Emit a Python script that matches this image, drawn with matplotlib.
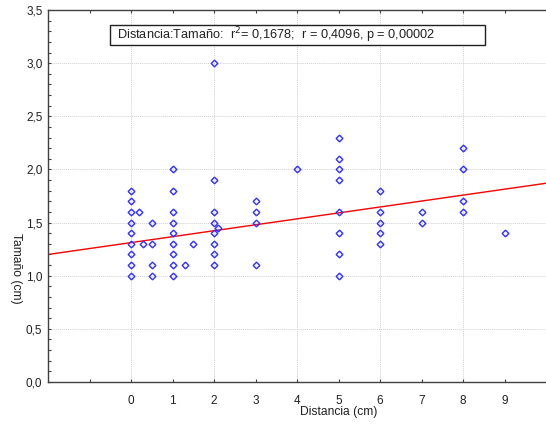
import numpy as np
import matplotlib
matplotlib.use("Agg")
import matplotlib.pyplot as plt
from matplotlib.ticker import FuncFormatter, MultipleLocator, FixedLocator
from matplotlib.patches import Rectangle

plt.rcParams['font.family'] = ['Liberation Sans', 'DejaVu Sans']

# Data
distancia = [0, 0, 0, 0, 0, 0, 0, 0, 0,
             0.2, 0.3,
             0.5, 0.5, 0.5, 0.5,
             1, 1, 1, 1, 1, 1, 1, 1, 1,
             1.3, 1.5,
             2, 2, 2, 2, 2, 2, 2, 2, 2.1,
             3, 3, 3, 3,
             4,
             5, 5, 5, 5, 5, 5, 5, 5,
             6, 6, 6, 6, 6,
             7, 7,
             8, 8, 8, 8,
             9]
tamano = [1.0, 1.1, 1.2, 1.3, 1.4, 1.5, 1.6, 1.7, 1.8,
          1.6, 1.3,
          1.5, 1.3, 1.1, 1.0,
          1.0, 1.1, 1.2, 1.3, 1.4, 1.5, 1.6, 1.8, 2.0,
          1.1, 1.3,
          1.1, 1.2, 1.3, 1.4, 1.5, 1.6, 1.9, 3.0, 1.45,
          1.1, 1.5, 1.6, 1.7,
          2.0,
          1.0, 1.2, 1.4, 1.6, 1.9, 2.0, 2.1, 2.3,
          1.3, 1.4, 1.5, 1.6, 1.8,
          1.5, 1.6,
          1.6, 1.7, 2.0, 2.2,
          1.4]

# Regression line as reported by the picture (value at x=-2 and x=10)
fit_x = [-2, 10]
fit_y = [1.20, 1.87]

x_ticklabels = ['0', '1', '2', '3', '4', '5', '6', '7', '8', '9']
stats_text = "Distancia:Tamaño:  r$^2$= 0,1678;  r = 0,4096, p = 0,00002"

W, H = 546, 430
fig = plt.figure(figsize=(W / 100, H / 100), dpi=100)
ax = fig.add_axes([48 / W, 1 - 382 / H, (546 - 48) / W, (382 - 10) / H])

ax.set_xlim(-2, 10)
ax.set_ylim(0, 3.5)

# grid lines
for gx in [0, 2, 4, 6, 8]:
    ax.axvline(gx, color='#d0d0d0', lw=0.7, ls=(0, (1, 1)), zorder=0)
for gy in [0.5, 1.0, 1.5, 2.0, 2.5, 3.0]:
    ax.axhline(gy, color='#d0d0d0', lw=0.7, ls=(0, (1, 1)), zorder=0)

ax.plot(fit_x, fit_y, color='#ff0000', lw=1.0, zorder=2)
ax.plot(distancia, tamano, ls='none', marker='D', markersize=3.4,
        markerfacecolor='none', markeredgecolor='#3030ff', markeredgewidth=1.0,
        zorder=3)

# ticks
ax.xaxis.set_major_locator(FixedLocator(list(range(0, 10))))
ax.set_xticklabels(x_ticklabels)
ax.xaxis.set_minor_locator(FixedLocator([-1]))
ax.yaxis.set_major_locator(MultipleLocator(0.5))
ax.yaxis.set_minor_locator(MultipleLocator(0.1))
ax.yaxis.set_major_formatter(FuncFormatter(lambda v, p: f"{v:.1f}".replace('.', ',')))
ax.tick_params(axis='both', which='both', direction='in', length=2, width=0.8,
               colors='#404040', labelcolor='#202020', labelsize=8.5)
ax.tick_params(axis='x', which='both', top=True, pad=9)
ax.tick_params(axis='y', which='both', pad=4)

for s in ['left', 'bottom', 'top']:
    ax.spines[s].set_color('#404040')
    ax.spines[s].set_linewidth(1.0)
ax.spines['right'].set_visible(False)

fig.text(339 / W, 1 - 412 / H, "Distancia (cm)", ha='center', va='center',
         fontsize=8.7, color='#202020')
fig.text(16 / W, 1 - 268 / H, "Tamaño (cm)", ha='center', va='center',
         fontsize=8.7, color='#202020', rotation=-90)

# stats box
fig.patches.append(Rectangle((110 / W, 1 - 45 / H), (485 - 110) / W, 20 / H,
                             transform=fig.transFigure, facecolor='white',
                             edgecolor='#202020', lw=1.0, zorder=5))
fig.text(117 / W, 1 - 35 / H, stats_text, ha='left', va='center',
         fontsize=9.2, color='#202020', zorder=6)

fig.savefig("out.png", dpi=100)
